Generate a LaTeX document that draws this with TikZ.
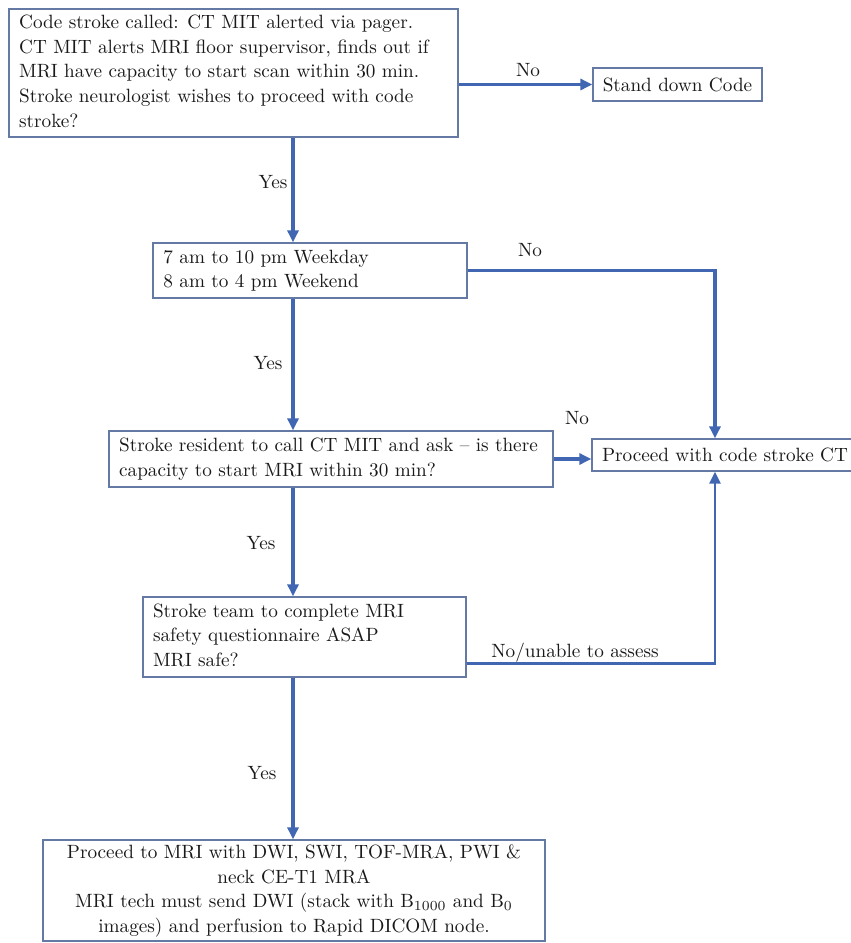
\documentclass[tikz,border=0pt]{standalone}
\usepackage{graphicx}
\usetikzlibrary{arrows.meta,calc}
\definecolor{arrcol}{RGB}{66,103,178}
\definecolor{boxcol}{RGB}{100,122,165}
\definecolor{txtcol}{RGB}{25,25,25}
\newcommand{\lbox}[2]{\scalebox{1.98}{\makebox[#1][l]{\fontsize{9.7}{12.6}\selectfont\begin{tabular}{@{}l@{}}#2\end{tabular}}}}
\newcommand{\cbox}[2]{\scalebox{1.98}{\makebox[#1][c]{\fontsize{9.7}{12.6}\selectfont\begin{tabular}{@{}c@{}}#2\end{tabular}}}}
\newcommand{\lbl}[1]{\scalebox{1.98}{\fontsize{9.7}{12.6}\selectfont #1}}
\tikzset{
  flowbox/.style={draw=boxcol, line width=1.3pt, fill=white, inner sep=0pt, text=txtcol},
  arr/.style={draw=arrcol, line width=3.2pt, -{Triangle[length=12pt,width=11pt]}},
  lab/.style={anchor=base, inner sep=0pt, text=txtcol}
}
\begin{document}
\begin{tikzpicture}[x=1pt,y=-1pt]
\useasboundingbox (0,0) rectangle (851,943);
\coordinate (spine) at (293,0);
\coordinate (rail) at (715,0);

\node[flowbox, minimum width=449pt, minimum height=128pt] (b1) at (233.5,73)
  {\lbox{216.5pt}{Code stroke called: CT MIT alerted via pager.\\ CT MIT alerts MRI floor supervisor, finds out if\\ MRI have capacity to start scan within 30 min.\\ Stroke neurologist wishes to proceed with code\\ stroke?}};
\node[flowbox, minimum width=169pt, minimum height=33pt] (sd) at (677.5,84.5)
  {\lbl{Stand down Code}};
\node[flowbox, minimum width=314pt, minimum height=55pt] (b2) at (310,270.5)
  {\lbox{148pt}{7 am to 10 pm Weekday\\ 8 am to 4 pm Weekend}};
\node[flowbox, minimum width=444pt, minimum height=56pt] (b3) at (331,459)
  {\lbox{214pt}{Stroke resident to call CT MIT and ask -- is there\\ capacity to start MRI within 30 min?}};
\node[flowbox, minimum width=266pt, minimum height=32pt] (ct) at (725,455)
  {\lbl{Proceed with code stroke CT}};
\node[flowbox, minimum width=323pt, minimum height=80pt] (b4) at (304.5,637)
  {\lbox{153pt}{Stroke team to complete MRI\\ safety questionnaire ASAP\\ MRI safe?}};
\node[flowbox, minimum width=502pt, minimum height=101pt] (b5) at (294,890.5)
  {\cbox{243pt}{Proceed to MRI with DWI, SWI, TOF-MRA, PWI \&\\ neck CE-T1 MRA\\ MRI tech must send DWI (stack with B$_{1000}$ and B$_0$\\ images) and perfusion to Rapid DICOM node.}};

\draw[arr] (b1.east |- sd.west) -- (sd.west);
\draw[arr] (b1.south -| spine) -- (b2.north -| spine);
\draw[arr] (b2.east) -- (b2.east -| rail) -- (ct.north -| rail);
\draw[arr] (b2.south -| spine) -- (b3.north -| spine);
\draw[arr] (b3.east) -- (b3.east -| ct.west);
\draw[arr] (b3.south -| spine) -- (b4.north -| spine);
\draw[arr, line width=2.6pt] ([yshift=14pt]b4.south east) -- ([yshift=14pt]b4.south east -| rail) -- (ct.south -| rail);
\draw[arr] (b4.south -| spine) -- (b5.north -| spine);

\node[lab] (no1) at (528,76) {\lbl{No}};
\node[lab] (yes1) at (273,188) {\lbl{Yes}};
\node[lab] (no2) at (530,256) {\lbl{No}};
\node[lab] (yes2) at (268,369) {\lbl{Yes}};
\node[lab] (no3) at (577,424) {\lbl{No}};
\node[lab] (yes3) at (261,549) {\lbl{Yes}};
\node[lab] (no4) at (575,657) {\lbl{No/unable to assess}};
\node[lab] (yes4) at (262,779) {\lbl{Yes}};
\end{tikzpicture}
\end{document}
